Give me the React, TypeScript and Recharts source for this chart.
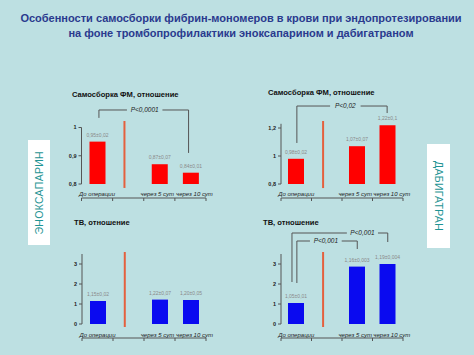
import React from 'react';
import { BarChart, Bar, XAxis, YAxis, ReferenceLine, ReferenceDot, LabelList } from 'recharts';

// categories on the x axis (slot 1 is the empty gap with the red divider)
const categories = ['До операции', '', 'через 5 сут', 'через 10 сут'];
const slots = [0, 2, 3];

// Самосборка ФМ – эноксапарин
const fmEnoxValues = [0.95, 0.87, 0.84];
const fmEnoxLabels = ['0,95±0,02', '0,87±0,07', '0,84±0,01'];
const fmEnoxTicks = [0.8, 0.9, 1];

// Самосборка ФМ – дабигатран
const fmDabiValues = [0.98, 1.07, 1.22];
const fmDabiLabels = ['0,98±0,02', '1,07±0,07', '1,22±0,1'];
const fmDabiTicks = [0.8, 1, 1.2];

// ТВ – эноксапарин
const tvEnoxValues = [1.15, 1.22, 1.2];
const tvEnoxLabels = ['1,15±0,02', '1,22±0,07', '1,20±0,05'];

// ТВ – дабигатран
const tvDabiValues = [1.05, 2.87, 3.0];
const tvDabiLabels = ['1,05±0,01', '1,16±0,003', '1,19±0,004'];
const tvTicks = [0, 1, 2, 3];

const FONT = '"Liberation Sans", Arial, sans-serif';
const BG = '#bde0e2';
const AXIS = '#555';

type Bracket = {
  x1: number; x2: number; y1: number; y2: number; top: number;
  text: string; tx: number; gap: number;
};

type Box = { left: number; top: number; width: number; height: number };

interface MiniProps {
  values: number[];
  labels: string[];
  color: string;
  domain: [number, number];
  ticks: number[];
  yWidth: number;
  box: Box;
  margin: { top: number; right: number; left: number; bottom: number };
  split: [number, number];
  brackets: Bracket[];
  labelGap: number;
}

const fmt = (v: number) => String(v).replace('.', ',');

// category label under the axis; the last one sits a little to the right as on the slide
const CategoryTick = (props: any) => {
  const { x, y, payload } = props;
  const shift = payload.value === 3 ? 4 : payload.value === 2 ? -2 : 0;
  return (
    <text x={x + shift} y={y} dy="0.71em" textAnchor="middle" fontSize={6} fontStyle="italic" fill="#222" fontFamily={FONT}>
      {categories[payload.value]}
    </text>
  );
};

const MiniChart = ({ values, labels, color, domain, ticks, yWidth, box, margin, split, brackets, labelGap }: MiniProps) => {
  const data = slots.map((s, i) => ({ pos: s, value: values[i], label: labels[i] }));
  const lineProps = { xAxisId: 'main', stroke: AXIS, strokeWidth: 1, ifOverflow: 'visible' as const };

  return (
    <div style={{ position: 'absolute', left: box.left, top: box.top }}>
      <BarChart width={box.width} height={box.height} data={data} margin={margin}>
        <XAxis
          xAxisId="main"
          dataKey="pos"
          type="number"
          domain={[-0.5, 3.5]}
          ticks={[-0.5, 0.5, 1.5, 2.5, 3.5]}
          interval={0}
          tickFormatter={() => ''}
          height={4}
          tickSize={3}
          stroke={AXIS}
        />
        <XAxis
          xAxisId="lab"
          dataKey="pos"
          type="number"
          domain={[-0.5, 3.5]}
          ticks={slots}
          interval={0}
          height={14}
          tickSize={0}
          tickMargin={labelGap}
          axisLine={false}
          tickLine={false}
          tick={<CategoryTick />}
        />
        <YAxis
          type="number"
          domain={domain}
          ticks={ticks}
          interval={0}
          width={yWidth}
          tickSize={3}
          tickMargin={2}
          stroke={AXIS}
          tickFormatter={fmt}
          tick={{ fontSize: 5.5, fontWeight: 'bold', fill: '#222', fontFamily: FONT }}
        />
        <Bar xAxisId="main" dataKey="value" fill={color} barSize={16} isAnimationActive={false}>
          <LabelList dataKey="label" position="top" offset={5} style={{ fontSize: 5, fill: '#8a8a8a', fontFamily: FONT }} />
        </Bar>
        <ReferenceLine
          xAxisId="main"
          segment={[{ x: 0.88, y: split[0] }, { x: 0.88, y: split[1] }]}
          stroke="#e4603e"
          strokeWidth={2}
          ifOverflow="visible"
        />
        {brackets.flatMap((b, i) => [
          <ReferenceLine key={`l${i}`} {...lineProps} segment={[{ x: b.x1, y: b.y1 }, { x: b.x1, y: b.top }]} />,
          <ReferenceLine key={`h${i}`} {...lineProps} segment={[{ x: b.x1, y: b.top }, { x: b.tx - b.gap, y: b.top }]} />,
          <ReferenceLine key={`g${i}`} {...lineProps} segment={[{ x: b.tx + b.gap, y: b.top }, { x: b.x2, y: b.top }]} />,
          <ReferenceLine key={`r${i}`} {...lineProps} segment={[{ x: b.x2, y: b.top }, { x: b.x2, y: b.y2 }]} />,
          <ReferenceDot
            key={`t${i}`}
            xAxisId="main"
            x={b.tx}
            y={b.top}
            r={0}
            fill="none"
            stroke="none"
            ifOverflow="visible"
            label={{ value: b.text, position: 'center', fontSize: 6.5, fontStyle: 'italic', fill: '#222', fontFamily: FONT }}
          />,
        ])}
      </BarChart>
    </div>
  );
};

const ChartTitle = ({ left, top, text }: { left: number; top: number; text: string }) => (
  <div style={{ position: 'absolute', left, top, fontSize: 7.6, fontWeight: 'bold', color: '#111', lineHeight: 1, whiteSpace: 'nowrap' }}>
    {text}
  </div>
);

const SideLabel = ({ left, top, width, height, text, flip }: { left: number; top: number; width: number; height: number; text: string; flip: boolean }) => (
  <div
    style={{
      position: 'absolute', left, top, width, height, background: '#fff',
      display: 'flex', alignItems: 'center', justifyContent: 'center',
    }}
  >
    <span
      style={{
        writingMode: 'vertical-rl', transform: flip ? 'rotate(180deg)' : undefined,
        fontSize: 10.5, color: '#1f9494', letterSpacing: 0.3, whiteSpace: 'nowrap',
      }}
    >
      {text}
    </span>
  </div>
);

const App = () => {
  return (
    <div style={{ position: 'absolute', left: 0, top: 0, width: 474, height: 355, background: BG, fontFamily: FONT, overflow: 'hidden' }}>
      <div style={{ position: 'absolute', left: 4, top: 11, width: 474, textAlign: 'center', fontSize: 11, fontWeight: 'bold', color: '#2a3a8e', lineHeight: '15px' }}>
        Особенности самосборки фибрин-мономеров в крови при эндопротезировании
        <br />
        на фоне тромбопрофилактики эноксапарином и дабигатраном
      </div>

      <SideLabel left={28} top={140} width={22} height={105} text="ЭНОКСАПАРИН" flip />
      <SideLabel left={427} top={144} width={23} height={104} text="ДАБИГАТРАН" flip={false} />

      <ChartTitle left={72} top={91} text="Самосборка ФМ, отношение" />
      <ChartTitle left={268} top={89} text="Самосборка ФМ, отношение" />
      <ChartTitle left={74} top={219} text="ТВ, отношение" />
      <ChartTitle left={263} top={219} text="ТВ, отношение" />

      <MiniChart
        values={fmEnoxValues}
        labels={fmEnoxLabels}
        color="#ff0000"
        domain={[0.8, 1]}
        ticks={fmEnoxTicks}
        yWidth={41.5}
        box={{ left: 40, top: 100, width: 175, height: 110 }}
        margin={{ top: 27.5, right: 9, left: 0, bottom: 8 }}
        split={[0.786, 1.023]}
        labelGap={8}
        brackets={[{ x1: 0.06, x2: 2.94, y1: 1.034, y2: 0.91, top: 1.062, text: 'P<0,0001', tx: 1.53, gap: 0.57 }]}
      />
      <MiniChart
        values={fmDabiValues}
        labels={fmDabiLabels}
        color="#ff0000"
        domain={[0.8, 1.23]}
        ticks={fmDabiTicks}
        yWidth={41}
        box={{ left: 240, top: 95, width: 175, height: 115 }}
        margin={{ top: 28.8, right: 12, left: 0, bottom: 8 }}
        split={[0.771, 1.25]}
        labelGap={8}
        brackets={[{ x1: 0.02, x2: 2.98, y1: 1.093, y2: 1.307, top: 1.357, text: 'P<0,02', tx: 1.61, gap: 0.5 }]}
      />
      <MiniChart
        values={tvEnoxValues}
        labels={tvEnoxLabels}
        color="#0a0af0"
        domain={[0, 3.5]}
        ticks={tvTicks}
        yWidth={42}
        box={{ left: 40, top: 230, width: 175, height: 120 }}
        margin={{ top: 24, right: 9, left: 0, bottom: 8 }}
        split={[-0.15, 3.6]}
        labelGap={9}
        brackets={[]}
      />
      <MiniChart
        values={tvDabiValues}
        labels={tvDabiLabels}
        color="#0a0af0"
        domain={[0, 3.5]}
        ticks={tvTicks}
        yWidth={41}
        box={{ left: 240, top: 225, width: 175, height: 125 }}
        margin={{ top: 29, right: 12, left: 0, bottom: 8 }}
        split={[-0.15, 3.6]}
        labelGap={9}
        brackets={[
          { x1: -0.14, x2: 3.0, y1: 2.1, y2: 4.1, top: 4.55, text: 'P<0,001', tx: 2.17, gap: 0.51 },
          { x1: 0.02, x2: 2.0, y1: 2.05, y2: 3.75, top: 4.15, text: 'P<0,001', tx: 0.97, gap: 0.52 },
        ]}
      />
    </div>
  );
};

export default App;
